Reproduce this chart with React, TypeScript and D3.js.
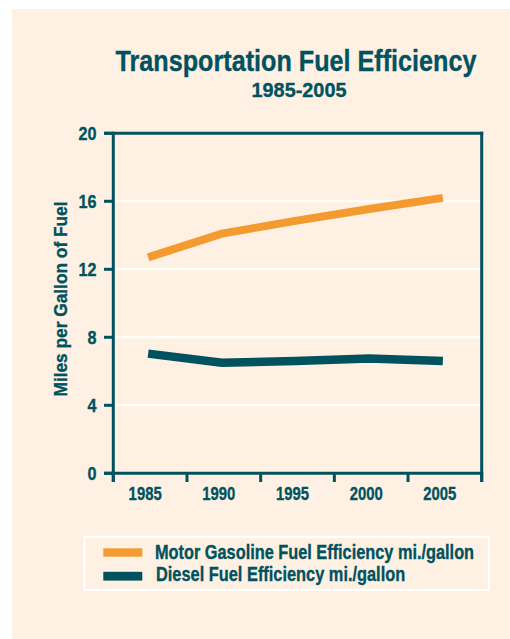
import React, { useLayoutEffect, useRef, useState } from "react";
import * as d3 from "d3";

const years = [1985, 1990, 1995, 2000, 2005];
const gasoline = [12.7, 14.1, 14.85, 15.55, 16.2];
const diesel = [7.04, 6.5, 6.6, 6.75, 6.6];
const yTicks = [0, 4, 8, 12, 16, 20];
const seriesNames = ["Motor Gasoline Fuel Efficiency mi./gallon", "Diesel Fuel Efficiency mi./gallon"];

const TEAL = "#00525E";
const ORANGE = "#F39A30";
const CREAM = "#FEF1E3";
const FONT = "'Liberation Sans', Arial, sans-serif";

type FitProps = {
  x: number; y: number; width: number; size: number;
  anchor?: "start" | "middle" | "end"; rotate?: number; children: React.ReactNode;
};

function FitText({ x, y, width, size, anchor = "start", rotate = 0, children }: FitProps) {
  const ref = useRef<SVGTextElement>(null);
  const [s, setS] = useState(0.78);
  useLayoutEffect(() => {
    if (ref.current) {
      const w = ref.current.getComputedTextLength();
      if (w > 0) setS(width / w);
    }
  }, [width, size, children]);
  return (
    <text
      ref={ref}
      transform={`translate(${x},${y}) rotate(${rotate}) scale(${s},1)`}
      textAnchor={anchor}
      fill={TEAL}
      stroke={TEAL}
      strokeWidth={0.35}
      fontFamily={FONT}
      fontWeight="bold"
      fontSize={size}
    >
      {children}
    </text>
  );
}

export default function App() {
  const left = 113.3, right = 481.7, top = 133.3, bottom = 473.3;
  const y = d3.scaleLinear().domain([0, 20]).range([bottom, top]);
  const band = d3.scaleBand<number>().domain(years).range([left, right]).padding(0);
  const bw = band.bandwidth();
  const px = (yr: number) => (band(yr) as number) + bw / 2 - 2;
  const line = d3.line<[number, number]>().x(d => px(d[0])).y(d => y(d[1]));
  const gasPts: [number, number][] = years.map((yr, i) => [yr, gasoline[i]]);
  const dslPts: [number, number][] = years.map((yr, i) => [yr, diesel[i]]);
  const tickXs = [...years.map(yr => band(yr) as number), right];

  return (
    <svg width={510} height={639} style={{ position: "absolute", left: 0, top: 0, background: "#fff" }}>
      <rect x={12} y={9} width={498} height={630} fill={CREAM} />
      <FitText x={296} y={70.5} width={361} size={30} anchor="middle">Transportation Fuel Efficiency</FitText>
      <FitText x={299} y={96.7} width={95} size={20.5} anchor="middle">1985-2005</FitText>

      {yTicks.filter(t => t > 0 && t < 20).map(t => (
        <line key={"g" + t} x1={left} x2={right} y1={y(t)} y2={y(t)} stroke="#fff" strokeWidth={2} />
      ))}

      <line x1={104} x2={right + 1.5} y1={top} y2={top} stroke={TEAL} strokeWidth={3} />
      <line x1={104} x2={right + 1.5} y1={bottom} y2={bottom} stroke={TEAL} strokeWidth={3} />
      <line x1={left} x2={left} y1={top - 1.5} y2={482} stroke={TEAL} strokeWidth={3} />
      <line x1={right} x2={right} y1={top - 1.5} y2={482} stroke={TEAL} strokeWidth={3} />

      {yTicks.map(t => (
        <g key={"y" + t}>
          <line x1={104} x2={left} y1={y(t)} y2={y(t)} stroke={TEAL} strokeWidth={3} />
          <FitText x={96.5} y={y(t) + 6.8} width={t >= 10 ? 18 : 9} size={19} anchor="end">{t}</FitText>
        </g>
      ))}

      {tickXs.map((tx, i) => (
        <line key={"xt" + i} x1={tx} x2={tx} y1={bottom} y2={482} stroke={TEAL} strokeWidth={3} />
      ))}
      {years.map(yr => (
        <FitText key={"xl" + yr} x={(band(yr) as number) + bw / 2 - 5} y={500} width={33} size={19} anchor="middle">{yr}</FitText>
      ))}

      <FitText x={66.7} y={299} rotate={-90} width={195} size={18} anchor="middle">Miles per Gallon of Fuel</FitText>

      <path d={line(gasPts) as string} fill="none" stroke={ORANGE} strokeWidth={8} />
      <path d={line(dslPts) as string} fill="none" stroke={TEAL} strokeWidth={8.5} />

      <rect x={84.3} y={537} width={404.7} height={53} fill="none" stroke="#fff" strokeWidth={2} />
      <rect x={103.3} y={548.3} width={39} height={8.4} fill={ORANGE} />
      <rect x={103.3} y={571.8} width={39} height={8.8} fill={TEAL} />
      <FitText x={155} y={558.5} width={319} size={19.5}>{seriesNames[0]}</FitText>
      <FitText x={156} y={581} width={249} size={19.5}>{seriesNames[1]}</FitText>
    </svg>
  );
}
